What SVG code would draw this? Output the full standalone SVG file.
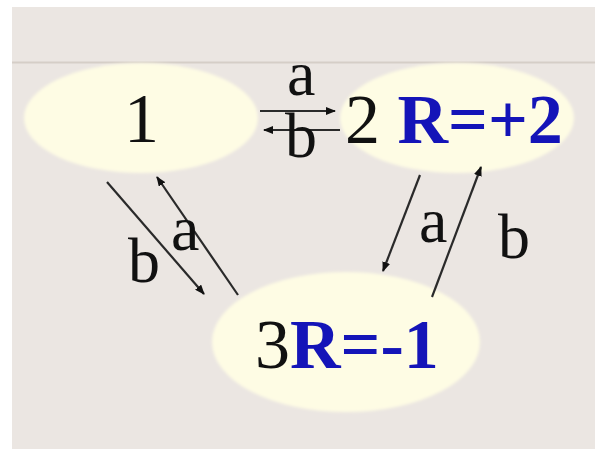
<svg xmlns="http://www.w3.org/2000/svg" width="595" height="449" viewBox="0 0 595 449">
<style>
.node{fill:#fefce4;}
.t{font-family:"Liberation Serif","Times New Roman",serif;font-size:70px;fill:#111;}
.r{font-weight:bold;fill:#1414b8;}
.lbl{font-family:"Liberation Serif","Times New Roman",serif;font-size:64px;fill:#111;}
.edge{stroke:#2a2a2a;stroke-width:2.2;fill:none;marker-end:url(#ah);}
</style>
<defs>
<marker id="ah" markerUnits="userSpaceOnUse" markerWidth="10" markerHeight="8" refX="9" refY="4" orient="auto">
<path d="M0,0 L10,4 L0,8 z" fill="#111"/>
</marker>
<filter id="soft" x="-10%" y="-10%" width="120%" height="120%"><feGaussianBlur stdDeviation="1.5"/></filter>
</defs>
<rect x="0" y="0" width="595" height="449" fill="#ffffff"/>
<rect x="12" y="7" width="583" height="442" fill="#ebe6e2"/>
<line x1="12" y1="62.5" x2="595" y2="62.5" stroke="#d5cec7" stroke-width="2"/>
<g id="node1">
<ellipse class="node" cx="141" cy="118" rx="117" ry="55" filter="url(#soft)"/>
<text class="t" x="124" y="142">1</text>
</g>
<g id="node2">
<ellipse class="node" cx="457" cy="118" rx="117" ry="55" filter="url(#soft)"/>
<text class="t" x="345" y="143">2 <tspan class="r">R=+2</tspan></text>
</g>
<g id="node3">
<ellipse class="node" cx="346" cy="342" rx="134" ry="70" filter="url(#soft)"/>
<text class="t" x="255" y="368">3<tspan class="r">R=-1</tspan></text>
</g>
<g id="connectors">
<line class="edge" x1="260" y1="111" x2="335" y2="111"/>
<line class="edge" x1="340" y1="130" x2="264" y2="130"/>
<line class="edge" x1="107" y1="182" x2="204" y2="294"/>
<line class="edge" x1="238" y1="295" x2="157" y2="177"/>
<line class="edge" x1="420" y1="175" x2="383" y2="271"/>
<line class="edge" x1="432" y1="297" x2="481" y2="167"/>
<text class="lbl" x="287" y="95">a</text>
<text class="lbl" x="285" y="157">b</text>
<text class="lbl" x="128" y="282">b</text>
<text class="lbl" x="171" y="250">a</text>
<text class="lbl" x="419" y="242">a</text>
<text class="lbl" x="498" y="258">b</text>
</g>
</svg>
